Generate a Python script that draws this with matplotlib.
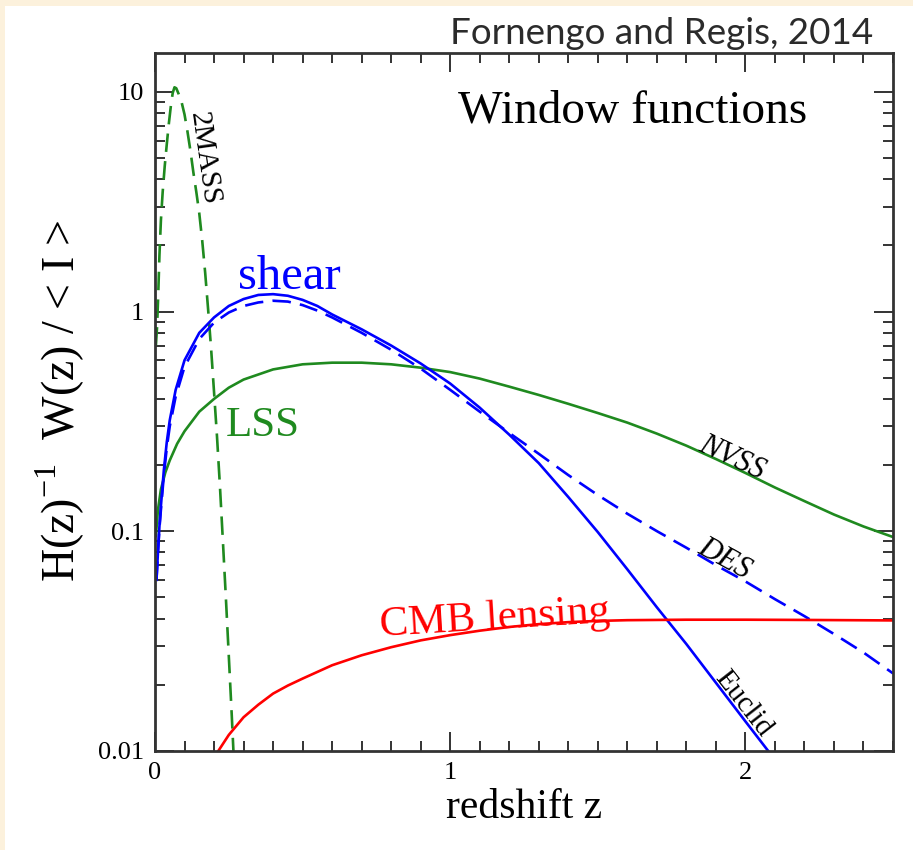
import matplotlib.pyplot as plt
from matplotlib.patches import Rectangle
from matplotlib.ticker import FixedLocator, MultipleLocator, LogLocator, NullFormatter

plt.rcParams['font.family'] = 'serif'
plt.rcParams['font.serif'] = ['Liberation Serif', 'DejaVu Serif']
plt.rcParams['mathtext.fontset'] = 'custom'
plt.rcParams['mathtext.rm'] = 'Liberation Serif'

# window functions H(z)^-1 W(z)/<I> versus redshift
z_2mass = [0.003, 0.007, 0.011, 0.015, 0.020, 0.026, 0.033, 0.040, 0.047, 0.054, 0.060,
           0.066, 0.072, 0.080, 0.090, 0.100, 0.110, 0.120, 0.130, 0.140, 0.150, 0.160,
           0.170, 0.180, 0.190, 0.200, 0.210, 0.220, 0.230, 0.240, 0.250, 0.260, 0.270]
w_2mass = [0.70, 0.85, 1.2, 1.8, 2.6, 3.5, 4.6, 5.8, 7.2, 8.7, 9.9,
           10.5, 10.4, 9.8, 9.0, 7.9, 6.6, 5.4, 4.3, 3.5, 2.8, 2.1,
           1.5, 1.02, 0.68, 0.43, 0.27, 0.16, 0.09, 0.05, 0.027, 0.0145, 0.0075]

z_nvss = [0.003, 0.01, 0.02, 0.035, 0.05, 0.075, 0.10, 0.15, 0.20, 0.25, 0.30, 0.40,
          0.50, 0.60, 0.70, 0.80, 0.90, 1.00, 1.10, 1.20, 1.30, 1.40, 1.50, 1.60,
          1.70, 1.80, 1.90, 2.00, 2.10, 2.20, 2.30, 2.40, 2.50]
w_nvss = [0.095, 0.125, 0.155, 0.185, 0.21, 0.25, 0.285, 0.35, 0.40, 0.45, 0.49, 0.545,
          0.575, 0.585, 0.585, 0.575, 0.555, 0.53, 0.495, 0.455, 0.417, 0.38, 0.345, 0.312,
          0.278, 0.245, 0.213, 0.184, 0.158, 0.137, 0.119, 0.105, 0.094]

z_euclid = [0.005, 0.01, 0.015, 0.02, 0.03, 0.04, 0.05, 0.07, 0.10, 0.15, 0.20, 0.25,
            0.30, 0.35, 0.40, 0.45, 0.50, 0.55, 0.60, 0.70, 0.80, 0.90, 1.00, 1.10,
            1.20, 1.30, 1.40, 1.50, 1.60, 1.70, 1.80, 1.90, 2.00, 2.10]
w_euclid = [0.06, 0.08, 0.105, 0.13, 0.19, 0.255, 0.32, 0.44, 0.60, 0.80, 0.94, 1.06,
            1.14, 1.19, 1.20, 1.18, 1.13, 1.06, 0.97, 0.83, 0.70, 0.58, 0.47, 0.365,
            0.275, 0.204, 0.143, 0.099, 0.067, 0.045, 0.0306, 0.0204, 0.0136, 0.0091]

z_des = [0.005, 0.01, 0.015, 0.02, 0.03, 0.04, 0.05, 0.07, 0.10, 0.15, 0.20, 0.25,
         0.30, 0.35, 0.40, 0.45, 0.50, 0.55, 0.60, 0.70, 0.80, 0.90, 1.00, 1.10,
         1.20, 1.30, 1.40, 1.50, 1.60, 1.70, 1.80, 1.90, 2.00, 2.10, 2.20, 2.30,
         2.40, 2.50]
w_des = [0.06, 0.08, 0.103, 0.125, 0.18, 0.24, 0.30, 0.41, 0.56, 0.75, 0.89, 0.99,
         1.06, 1.10, 1.12, 1.11, 1.07, 1.01, 0.94, 0.80, 0.67, 0.55, 0.44, 0.35,
         0.28, 0.225, 0.18, 0.146, 0.12, 0.10, 0.084, 0.070, 0.059, 0.049, 0.041, 0.034,
         0.028, 0.0225]

z_cmb = [0.215, 0.25, 0.30, 0.35, 0.40, 0.45, 0.50, 0.60, 0.70, 0.80, 0.90, 1.00,
         1.10, 1.20, 1.30, 1.40, 1.50, 1.60, 1.80, 2.00, 2.20, 2.50]
w_cmb = [0.0100, 0.0118, 0.0142, 0.0162, 0.0182, 0.0198, 0.0213, 0.0245, 0.0272, 0.0296,
         0.0318, 0.0336, 0.0352, 0.0366, 0.0377, 0.0385, 0.0390, 0.0393, 0.0395, 0.0395,
         0.0394, 0.0392]

x_ticks = [0, 1, 2]
x_ticklabels = ['0', '1', '2']
y_ticks = [0.01, 0.1, 1, 10]
y_ticklabels = ['0.01', '0.1', '1', '10']

green = '#1f8a1f'
blue = '#0000ff'
red = '#ff0000'
lw = 1.9

fig = plt.figure(figsize=(9.13, 8.5), dpi=100)
fig.patch.set_facecolor('white')
# cream frame strips along the top and left edge
fig.add_artist(Rectangle((0, 0), 5 / 913, 1, transform=fig.transFigure,
                         color='#fcf1dc', lw=0, zorder=0))
fig.add_artist(Rectangle((0, 1 - 6 / 850), 1, 6 / 850, transform=fig.transFigure,
                         color='#fcf1dc', lw=0, zorder=0))

ax = fig.add_axes([155 / 913, 1 - 750.7 / 850, 738 / 913, 697.4 / 850])

ax.plot(z_2mass, w_2mass, color=green, lw=lw, dashes=(7, 3.5))
ax.plot(z_nvss, w_nvss, color=green, lw=lw)
ax.plot(z_euclid, w_euclid, color=blue, lw=lw)
ax.plot(z_des, w_des, color=blue, lw=lw, dashes=(7, 3.5))
ax.plot(z_cmb, w_cmb, color=red, lw=lw)

ax.set_yscale('log')
ax.set_xlim(0, 2.5)
ax.set_ylim(0.01, 15)

ax.xaxis.set_major_locator(FixedLocator(x_ticks))
ax.set_xticklabels(x_ticklabels)
ax.xaxis.set_minor_locator(MultipleLocator(0.1))
ax.yaxis.set_major_locator(FixedLocator(y_ticks))
ax.set_yticklabels(y_ticklabels)
ax.yaxis.set_minor_locator(LogLocator(base=10, subs=[2, 3, 4, 5, 6, 7, 8, 9]))
ax.yaxis.set_minor_formatter(NullFormatter())

ax.tick_params(which='both', direction='in', top=True, right=True, width=1.4,
               color='#333333', labelcolor='black')
ax.tick_params(which='major', length=13.5, labelsize=19, pad=8)
ax.tick_params(which='minor', length=7.5)
for s in ax.spines.values():
    s.set_linewidth(2.0)
    s.set_color('#333333')

# curve labels
ax.text(1.027, 7.25, 'Window functions', fontsize=34, color='black',
        ha='left', va='baseline')
ax.text(0.281, 1.267, 'shear', fontsize=35, color=blue, ha='left', va='baseline')
ax.text(0.241, 0.270, 'LSS', fontsize=31, color=green, ha='left', va='baseline')
ax.text(0.763, 0.0334, 'CMB lensing', fontsize=31, color=red, ha='left', va='baseline',
        rotation=3.5, rotation_mode='anchor')
ax.text(0.142, 4.95, '2MASS', fontsize=21, ha='center', va='baseline',
        rotation=-82, rotation_mode='anchor')
ax.text(1.942, 0.201, 'NVSS', fontsize=22, style='italic', ha='center', va='baseline',
        rotation=-25, rotation_mode='anchor')
ax.text(1.915, 0.0697, 'DES', fontsize=22, style='italic', ha='center', va='baseline',
        rotation=-29, rotation_mode='anchor')
ax.text(1.973, 0.0157, 'Euclid', fontsize=21, ha='center', va='baseline',
        rotation=-52, rotation_mode='anchor')

# axis titles
fig.text(524 / 913, 1 - 818 / 850, 'redshift z', fontsize=30, ha='center', va='baseline')
fig.text(60 / 913, 1 - 401 / 850, r'H(z)$^{\mathrm{-1}}$  W(z) / < I >', fontsize=33,
         rotation=90, ha='center', va='center')

fig.text(450 / 913, 1 - 44 / 850, 'Fornengo and Regis, 2014', fontsize=26.5,
         family=['Lato', 'DejaVu Sans'], color='#2b2b2b',
         ha='left', va='baseline')

fig.savefig('out.png', dpi=100)
